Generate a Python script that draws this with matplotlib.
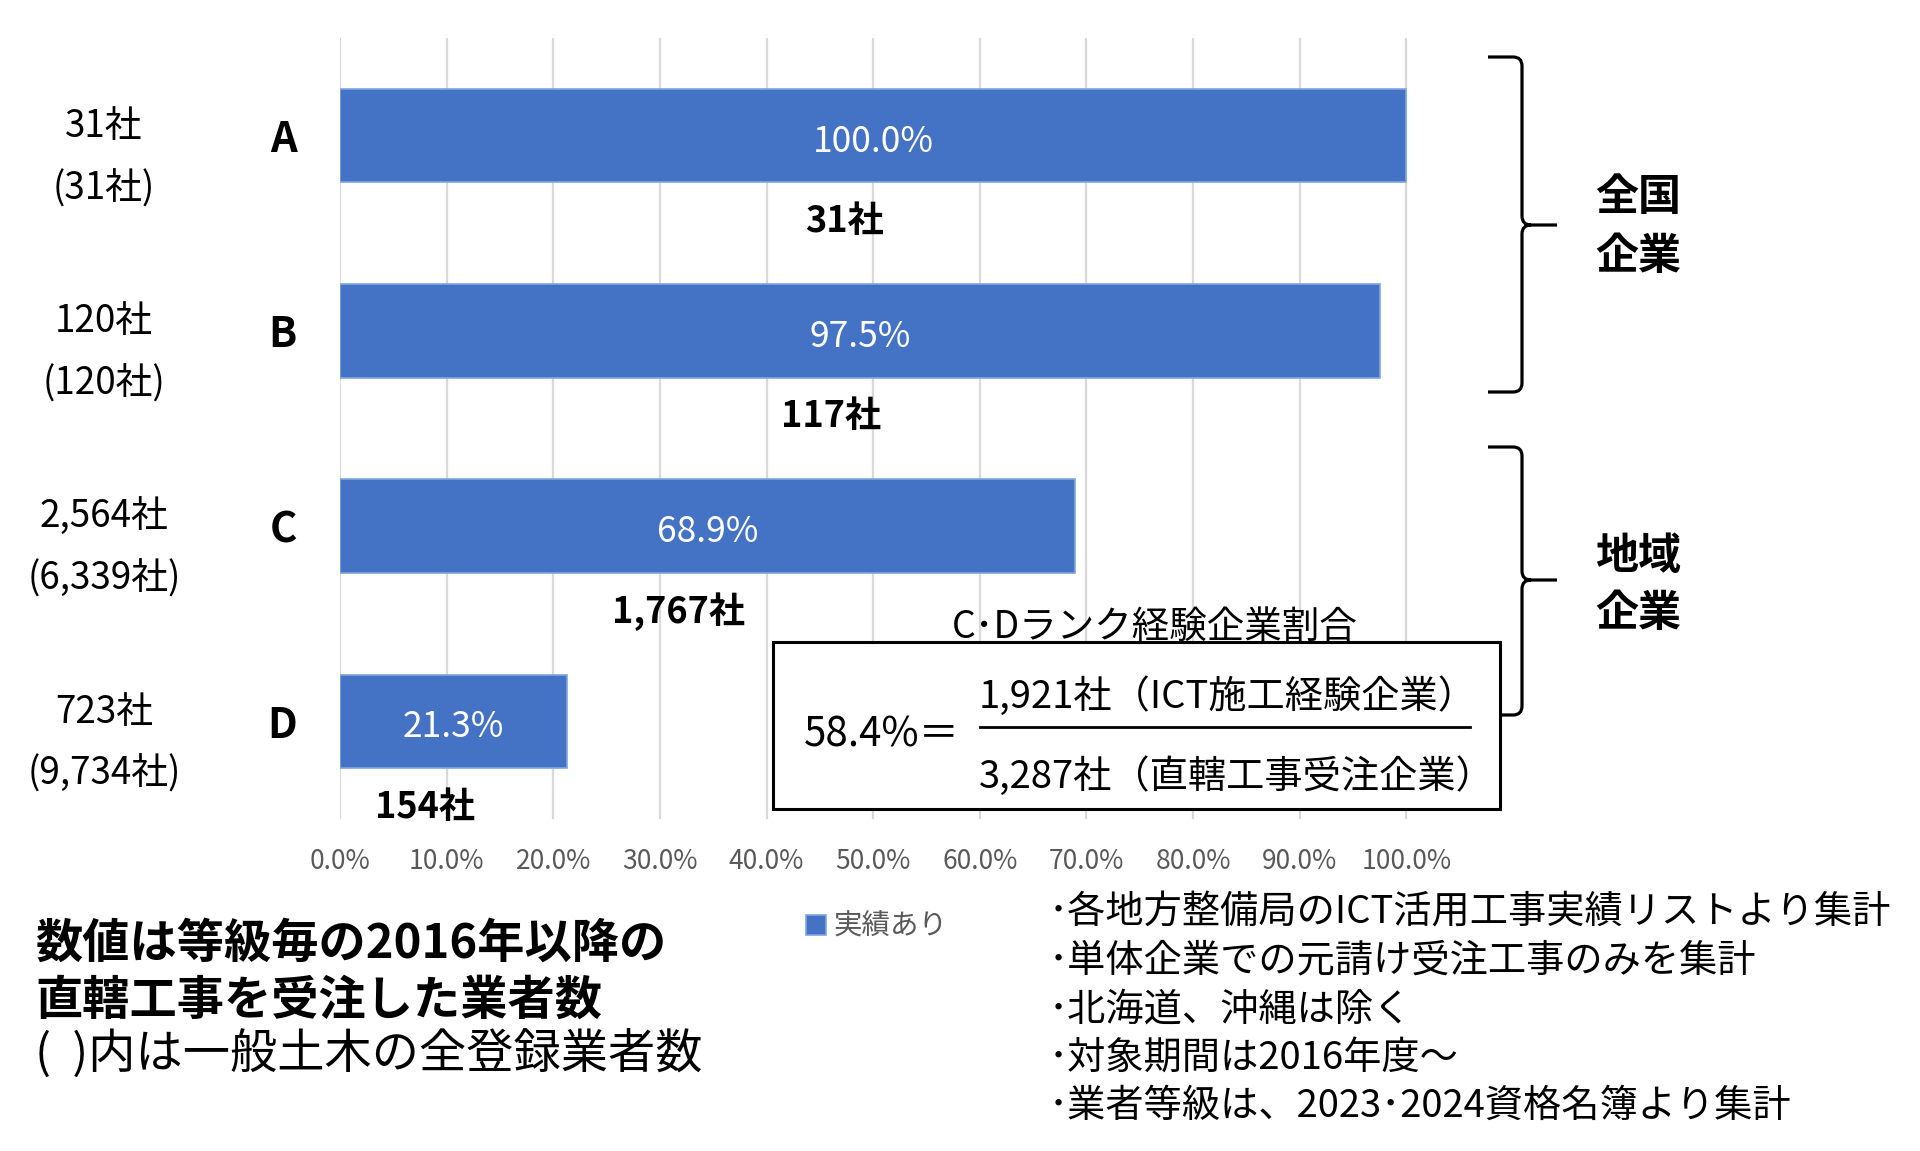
import matplotlib
matplotlib.use('Agg')
import matplotlib.pyplot as plt
import matplotlib.transforms as mtransforms
from matplotlib.patches import Rectangle, PathPatch
from matplotlib.path import Path
from matplotlib.lines import Line2D
import numpy as np

plt.rcParams['font.family'] = ['Noto Sans CJK JP', 'DejaVu Sans']

# ---------------- data ----------------
grades = ['A', 'B', 'C', 'D']
share_pct = [100.0, 97.5, 68.9, 21.3]
experienced = ['31社', '117社', '1,767社', '154社']
contractors = ['31社', '120社', '2,564社', '723社']
registered = ['(31社)', '(120社)', '(6,339社)', '(9,734社)']
x_ticks = [0, 10, 20, 30, 40, 50, 60, 70, 80, 90, 100]
tick_labels = ['0.0%', '10.0%', '20.0%', '30.0%', '40.0%', '50.0%',
               '60.0%', '70.0%', '80.0%', '90.0%', '100.0%']
legend_label = '実績あり'
group_top = ['全国', '企業']
group_bottom = ['地域', '企業']
box_title = 'C･Dランク経験企業割合'
box_ratio = '58.4%＝'
box_numer = '1,921社（ICT施工経験企業）'
box_denom = '3,287社（直轄工事受注企業）'
left_notes = ['数値は等級毎の2016年以降の', '直轄工事を受注した業者数', '(  )内は一般土木の全登録業者数']
right_notes = ['･各地方整備局のICT活用工事実績リストより集計',
               '･単体企業での元請け受注工事のみを集計',
               '･北海道、沖縄は除く',
               '･対象期間は2016年度～',
               '･業者等級は、2023･2024資格名簿より集計']

# ---------------- figure ----------------
W, H = 1920, 1151
DY = 4  # vertical nudge for CJK text centring
fig = plt.figure(figsize=(W / 100, H / 100), dpi=100)
T = mtransforms.Affine2D().scale(1 / W, -1 / H).translate(0, 1) + fig.transFigure

ax = fig.add_axes([340 / W, 1 - 819 / H, 1068 / W, 781 / H])
y = np.arange(len(grades))
bars = ax.barh(y, share_pct, height=0.48, color='#4472C4', edgecolor='#7EA6E0',
               linewidth=1.2, zorder=3, label=legend_label)
ax.set_xlim(0, 100.15)
ax.set_ylim(len(grades) - 0.5, -0.5)
ax.set_xticks(x_ticks)
ax.set_xticklabels(tick_labels, fontsize=19, color='#595959')
ax.set_yticks(y)
ax.set_yticklabels(grades, fontsize=30, fontweight='bold')
ax.tick_params(axis='x', length=0, pad=21)
ax.tick_params(axis='y', length=0, pad=31)
ax.grid(axis='x', color='#D9D9D9', linewidth=1.6, zorder=0)
for s in ax.spines.values():
    s.set_visible(False)

for i, v in enumerate(share_pct):
    ax.annotate(f'{v:.1f}%', xy=(v / 2, i), xytext=(0, -6),
                textcoords='offset pixels', ha='center', va='center',
                fontsize=25.5, color='white', zorder=5)
    ax.annotate(experienced[i], xy=(v / 2, i + 0.42), xytext=(-29, -4),
                textcoords='offset pixels', ha='center', va='center',
                fontsize=26, fontweight='bold', color='black')

ytr = ax.get_yaxis_transform()
for i in range(len(grades)):
    ax.annotate(contractors[i], xy=(-0.221, i - 0.067), xycoords=ytr,
                xytext=(0, -4), textcoords='offset pixels', ha='center',
                va='center', fontsize=26.5, color='black', annotation_clip=False)
    ax.annotate(registered[i], xy=(-0.221, i + 0.241), xycoords=ytr,
                xytext=(0, -6), textcoords='offset pixels', ha='center',
                va='center', fontsize=26.5, color='black', annotation_clip=False)

# legend
fig.legend(handles=[bars], labels=[legend_label], loc='center',
           bbox_to_anchor=(877 / W, 1 - 927 / H), frameon=False, fontsize=20.5,
           labelcolor='#595959', handlelength=0.7, handleheight=0.7,
           handletextpad=0.25)


# braces
def brace(top, mid, bottom, xl=1488, xv=1522, xt=1557, r=9):
    verts = [(xl, top), (xv - r, top), (xv, top), (xv, top + r),
             (xv, mid - r), (xv, mid), (xv + r, mid), (xt, mid),
             (xv + r, mid), (xv, mid), (xv, mid + r),
             (xv, bottom - r), (xv, bottom), (xv - r, bottom), (xl, bottom)]
    codes = [Path.MOVETO, Path.LINETO, Path.CURVE3, Path.CURVE3,
             Path.LINETO, Path.CURVE3, Path.CURVE3, Path.LINETO,
             Path.MOVETO, Path.CURVE3, Path.CURVE3,
             Path.LINETO, Path.CURVE3, Path.CURVE3, Path.LINETO]
    fig.add_artist(PathPatch(Path(verts, codes), transform=T, fill=False,
                             edgecolor='black', linewidth=2.3))


brace(57, 225, 392)
brace(447, 580, 715)

for k, s in enumerate(group_top):
    fig.text(1638, 193 + 59 * k + DY, s, transform=T, ha='center', va='center',
             fontsize=31, fontweight='bold')
for k, s in enumerate(group_bottom):
    fig.text(1638, 552 + 57 * k + DY, s, transform=T, ha='center', va='center',
             fontsize=31, fontweight='bold')

# formula box
fig.add_artist(Rectangle((773, 642), 727, 167, transform=T, facecolor='white',
                         edgecolor='black', linewidth=2.2, zorder=2))
fig.text(1155, 623 + DY, box_title, transform=T, ha='center', va='center', fontsize=27)
fig.text(804, 733 + 2, box_ratio, transform=T, ha='left', va='center', fontsize=29, zorder=3)
fig.text(979, 693 + DY, box_numer, transform=T, ha='left', va='center', fontsize=27.5, zorder=3)
fig.text(979, 776 + 1, box_denom, transform=T, ha='left', va='center', fontsize=27.5, zorder=3)
fig.add_artist(Line2D([980, 1470], [727, 727], transform=T, color='black',
                      linewidth=2.0, zorder=3))

# notes
for k, s in enumerate(left_notes):
    fig.text(35, [940, 997, 1051][k] + DY, s, transform=T, ha='left', va='center',
             fontsize=34, fontweight='bold' if k < 2 else 'normal')
for k, s in enumerate(right_notes):
    fig.text(1049, 909 + 48.3 * k + DY, s, transform=T, ha='left', va='center',
             fontsize=27.5)

fig.savefig('out.png', dpi=100, facecolor='white')
